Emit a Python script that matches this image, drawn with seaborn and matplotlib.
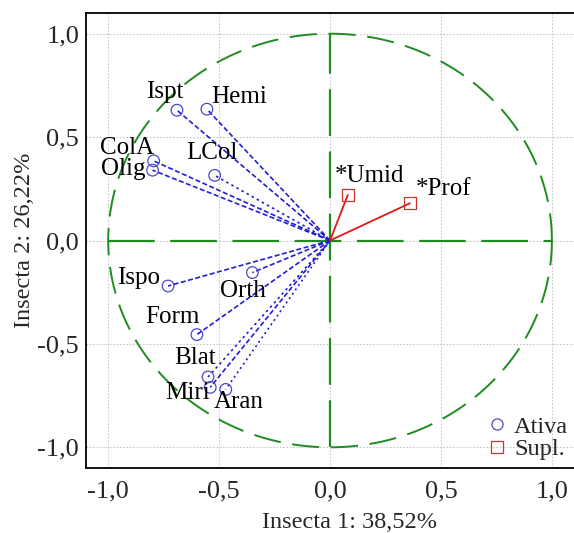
import numpy as np
import pandas as pd
import seaborn as sns
import matplotlib.pyplot as plt
from matplotlib.lines import Line2D
from matplotlib.ticker import MultipleLocator, FuncFormatter

# Active variables (Insecta) - loadings on factor 1 and 2
ativa_names = ["Ispt", "Hemi", "ColA", "Olig", "LCol", "Ispo", "Orth",
               "Form", "Blat", "Miri", "Aran"]
ativa_f1 = [-0.69, -0.555, -0.795, -0.80, -0.52, -0.73, -0.35,
            -0.60, -0.55, -0.54, -0.47]
ativa_f2 = [0.63, 0.635, 0.385, 0.34, 0.315, -0.22, -0.155,
            -0.455, -0.66, -0.71, -0.72]

# Supplementary variables
supl_names = ["*Umid", "*Prof"]
supl_f1 = [0.08, 0.36]
supl_f2 = [0.22, 0.18]

x_label = "Insecta 1: 38,52%"
y_label = "Insecta 2: 26,22%"

ativa = pd.DataFrame({"nome": ativa_names, "f1": ativa_f1, "f2": ativa_f2})
supl = pd.DataFrame({"nome": supl_names, "f1": supl_f1, "f2": supl_f2})

# label offsets in points (dx, dy) from each marker
offsets = {
    "Ispt": (-9, 13), "Hemi": (23, 9), "ColA": (-19, 9), "Olig": (-21, 1),
    "LCol": (-2, 16), "Ispo": (-21, 6), "Orth": (-7, -13), "Form": (-18, 13),
    "Blat": (-9, 14), "Miri": (-16, -4), "Aran": (9, -9),
    "*Umid": (16, 14), "*Prof": (24, 10),
}
line_styles = {
    "Ispt": (0, (3, 1.5)), "Hemi": (0, (3, 1.5)), "ColA": (0, (3, 1.5)),
    "Olig": (0, (3, 1.5)), "LCol": (0, (1.5, 2)), "Ispo": (0, (3, 1.5)),
    "Orth": (0, (3, 1.5)), "Form": (0, (3, 1.5)), "Blat": (0, (1.5, 2)),
    "Miri": (0, (3, 1.5)), "Aran": (0, (1.2, 2)),
}

blue = "#1f1fd6"
blue_mk = "#4a4ac8"
red = "#e01818"
red_mk = "#cc3333"
green = "#1e8c1e"

sns.set_style("white")
plt.rcParams["font.family"] = ["Liberation Serif", "DejaVu Serif"]

fig = plt.figure(figsize=(5.74, 5.33), dpi=100)
ax = fig.add_axes([86 / 574, 65 / 533, 528 / 574, 455 / 533])
ax.set_xlim(-1.1, 1.28)
ax.set_ylim(-1.1, 1.1)

# grid at major ticks
for v in [-1.0, -0.5, 0.0, 0.5, 1.0]:
    ax.axvline(v, color="#c8c8c8", lw=0.8, ls=(0, (1.5, 1.5)), zorder=0)
    ax.axhline(v, color="#c8c8c8", lw=0.8, ls=(0, (1.5, 1.5)), zorder=0)

# unit circle and axes through origin
theta = np.linspace(0, 2 * np.pi, 400)
circle = pd.DataFrame({"x": np.cos(theta), "y": np.sin(theta)})
ax.plot(circle["x"], circle["y"], color=green, lw=1.4, ls=(0, (14, 6)), zorder=1)
ax.plot([-1, 1], [0, 0], color=green, lw=1.6, ls=(0, (21, 7)), zorder=1)
ax.plot([0, 0], [-1, 1], color=green, lw=1.6, ls=(0, (21, 7)), zorder=1)

# vectors from origin
for _, r in ativa.iterrows():
    ax.plot([0, r.f1], [0, r.f2], color=blue, lw=1.2, ls=line_styles[r.nome], zorder=2)
for _, r in supl.iterrows():
    ax.plot([0, r.f1], [0, r.f2], color=red, lw=1.3, zorder=2)

sns.scatterplot(data=ativa, x="f1", y="f2", ax=ax, marker="o", s=70,
                facecolors="none", edgecolors=blue_mk, linewidth=0.9, zorder=3)
sns.scatterplot(data=supl, x="f1", y="f2", ax=ax, marker="s", s=75,
                facecolors="none", edgecolors=red_mk, linewidth=0.9, zorder=3)

for df in (ativa, supl):
    for _, r in df.iterrows():
        ax.annotate(r.nome, (r.f1, r.f2), xytext=offsets[r.nome],
                    textcoords="offset points", ha="center", va="center",
                    fontsize=18, color="black", zorder=4)

fmt = FuncFormatter(lambda v, p: f"{v:.1f}".replace(".", ","))
ax.xaxis.set_major_locator(MultipleLocator(0.5))
ax.yaxis.set_major_locator(MultipleLocator(0.5))
ax.xaxis.set_minor_locator(MultipleLocator(0.1))
ax.yaxis.set_minor_locator(MultipleLocator(0.1))
ax.xaxis.set_major_formatter(fmt)
ax.yaxis.set_major_formatter(fmt)
ax.tick_params(which="both", direction="in", top=False, right=False,
               labelsize=19, color="black")
ax.tick_params(which="major", length=4, width=1)
ax.tick_params(which="minor", length=3, width=1)
ax.tick_params(axis="x", which="major", pad=9)
ax.tick_params(axis="y", which="major", pad=5)

for s in ax.spines.values():
    s.set_color("black")
    s.set_linewidth(1.3)

ax.set_xlabel(x_label, fontsize=17.5, labelpad=7)
ax.set_ylabel(y_label, fontsize=17.5, labelpad=2)

handles = [
    Line2D([], [], marker="o", ls="none", mfc="none", mec=blue_mk, ms=8, mew=0.9),
    Line2D([], [], marker="s", ls="none", mfc="none", mec=red_mk, ms=8, mew=0.9),
]
fig.legend(handles, ["Ativa", "Supl."], loc="center left",
           bbox_to_anchor=(485 / 574, 1 - 438 / 533), frameon=False, fontsize=17.5,
           handletextpad=0.2, labelspacing=0.0, handlelength=1.0,
           borderpad=0.0, borderaxespad=0.0)

fig.savefig("out.png", dpi=100)
